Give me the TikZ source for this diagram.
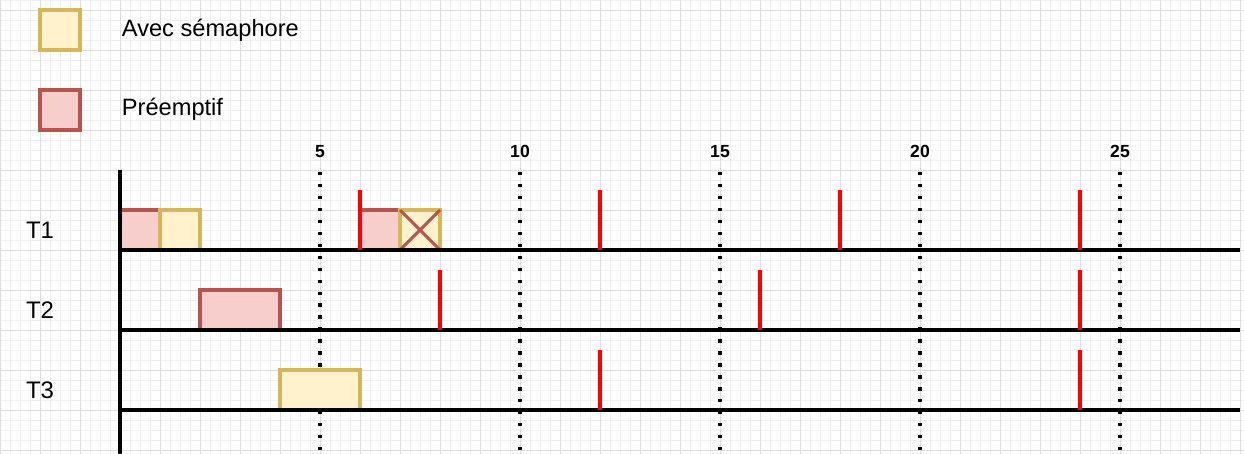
\documentclass[tikz,border=0pt]{standalone}
\usepackage{fontspec}
\setmainfont{Liberation Sans}

\definecolor{semafill}{HTML}{FFF2CC}
\definecolor{semadraw}{HTML}{D6B656}
\definecolor{preefill}{HTML}{F8CECC}
\definecolor{preedraw}{HTML}{B85450}
\definecolor{gridmajor}{HTML}{DDDDDD}
\definecolor{gridminor}{HTML}{F0F0F0}

\tikzset{
  sema/.style={fill=semafill, draw=semadraw, line width=2.4pt},
  pree/.style={fill=preefill, draw=preedraw, line width=2.4pt},
  axis/.style={line width=2.3pt, black},
  deadline/.style={line width=2.2pt, red},
  tickline/.style={line width=2.2pt, dash pattern=on 2.4pt off 6.1pt},
  tasklabel/.style={font=\fontsize{17}{20}\selectfont},
  legendlabel/.style={font=\fontsize{16.8}{19}\selectfont, anchor=west},
  timelabel/.style={font=\bfseries\fontsize{12.5}{14}\selectfont, anchor=base}
}

\begin{document}
\begin{tikzpicture}[x=0.025cm, y=-0.025cm]
  \useasboundingbox (0,0) rectangle (1244,454);
  \fill[white] (0,0) rectangle (1244,454);

  % grille de fond
  \foreach \gx in {0,10,...,1240}
    \draw[gridminor, line width=0.5pt] (\gx,0) -- (\gx,454);
  \foreach \gy in {0,10,...,450}
    \draw[gridminor, line width=0.5pt] (0,\gy) -- (1244,\gy);
  \foreach \gx in {0,40,...,1240}
    \draw[gridmajor, line width=0.7pt] (\gx,0) -- (\gx,454);
  \foreach \gy in {10,50,...,450}
    \draw[gridmajor, line width=0.7pt] (0,\gy) -- (1244,\gy);

  % legende
  \draw[sema] (40,10) rectangle (80,50);
  \node[legendlabel] (lsema) at (117,30) {Avec sémaphore};
  \draw[pree] (40,90) rectangle (80,130);
  \node[legendlabel] (lpree) at (117,109) {Préemptif};

  % graduations
  \foreach \t in {5,10,15,20,25} {
    \draw[tickline] (120+40*\t,172) -- (120+40*\t,454);
    \node[timelabel] (t\t) at (120+40*\t,157) {\t};
  }

  % taches
  \node[tasklabel] (T1) at (40,230) {T1};
  \node[tasklabel] (T2) at (40,310) {T2};
  \node[tasklabel] (T3) at (40,390) {T3};

  % T1
  \draw[pree] (120,210) rectangle (160,250);
  \draw[sema] (160,210) rectangle (200,250);
  \draw[pree] (360,210) rectangle (400,250);
  \draw[sema] (400,210) rectangle (440,250);
  \draw[preedraw, line width=2.2pt] (400,210) -- (440,250) (400,250) -- (440,210);
  % T2
  \draw[pree] (200,290) rectangle (280,330);
  % T3
  \draw[sema] (280,370) rectangle (360,410);

  % axes
  \draw[axis] (120,250) -- (1240,250);
  \draw[axis] (120,330) -- (1240,330);
  \draw[axis] (120,410) -- (1240,410);
  \draw[axis] (120,170) -- (120,454);

  % echeances
  \foreach \t in {6,12,18,24}
    \draw[deadline] (120+40*\t,190) -- (120+40*\t,250);
  \foreach \t in {8,16,24}
    \draw[deadline] (120+40*\t,270) -- (120+40*\t,330);
  \foreach \t in {12,24}
    \draw[deadline] (120+40*\t,350) -- (120+40*\t,410);
\end{tikzpicture}
\end{document}
